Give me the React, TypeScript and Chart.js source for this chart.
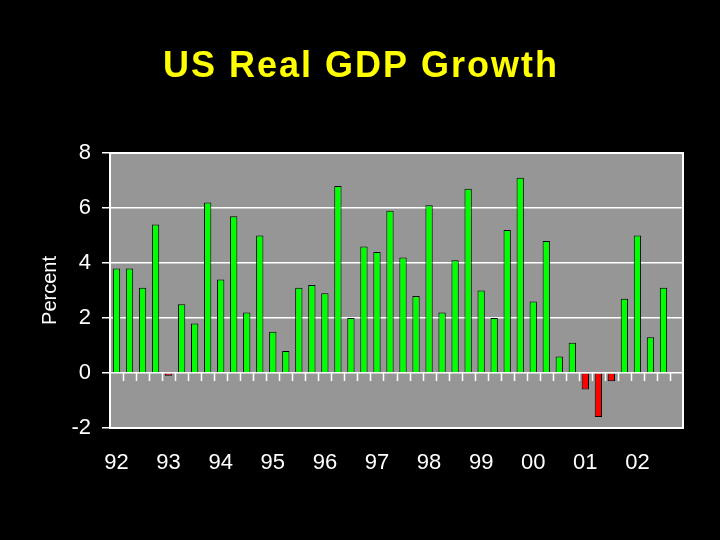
import React, { useEffect, useRef } from "react";
import { Chart, registerables } from "chart.js";

Chart.register(...registerables);

const titleText = "US Real GDP Growth";
const years = ["92", "93", "94", "95", "96", "97", "98", "99", "00", "01", "02"];
const quarters = ["Q1", "Q2", "Q3", "Q4"];
const categories: string[] = years.flatMap((y) => quarters.map((q) => `${y} ${q}`));

// Real GDP growth, percent, 1992 Q1 .. 2002 Q3 (2002 Q4 not yet reported)
const growth: (number | null)[] = [
  3.8, 3.8, 3.1, 5.4,
  -0.1, 2.5, 1.8, 6.2,
  3.4, 5.7, 2.2, 5.0,
  1.5, 0.8, 3.1, 3.2,
  2.9, 6.8, 2.0, 4.6,
  4.4, 5.9, 4.2, 2.8,
  6.1, 2.2, 4.1, 6.7,
  3.0, 2.0, 5.2, 7.1,
  2.6, 4.8, 0.6, 1.1,
  -0.6, -1.6, -0.3, 2.7,
  5.0, 1.3, 3.1, null,
];

const yTicks = [-2, 0, 2, 4, 6, 8];

const FONT = "'Liberation Sans', Arial, Helvetica, sans-serif";

export default function App() {
  const ref = useRef<HTMLCanvasElement | null>(null);

  useEffect(() => {
    document.body.style.margin = "0";
    document.body.style.background = "#000";
    const canvas = ref.current;
    if (!canvas) return;

    const framePlugin = {
      id: "frame",
      beforeDraw(chart: any) {
        const { ctx, chartArea: a } = chart;
        ctx.save();
        ctx.fillStyle = "#000";
        ctx.fillRect(0, 0, chart.width, chart.height);
        ctx.fillStyle = "#969696";
        ctx.fillRect(a.left, a.top, a.right - a.left, a.bottom - a.top);
        ctx.restore();
      },
      afterDatasetsDraw(chart: any) {
        const { ctx, chartArea: a, scales } = chart;
        const xs = scales.x;
        const ys = scales.y;
        const y0 = ys.getPixelForValue(0);
        const slot = xs.getPixelForTick(1) - xs.getPixelForTick(0);
        ctx.save();
        ctx.strokeStyle = "#ffffff";
        ctx.lineWidth = 1.5;
        ctx.beginPath();
        for (let i = 1; i < categories.length; i++) {
          const x = Math.round(xs.getPixelForTick(i) - slot / 2) + 0.5;
          ctx.moveTo(x, y0);
          ctx.lineTo(x, y0 + 8);
        }
        ctx.stroke();
        ctx.lineWidth = 2;
        ctx.strokeRect(a.left, a.top, a.right - a.left, a.bottom - a.top);
        ctx.restore();
      },
      afterDraw(chart: any) {
        const { ctx } = chart;
        ctx.save();
        ctx.font = `bold 36px ${FONT}`;
        try {
          (ctx as any).letterSpacing = "2px";
        } catch (e) {}
        ctx.fillStyle = "#ffff00";
        ctx.textAlign = "center";
        ctx.textBaseline = "middle";
        ctx.fillText(titleText, chart.width / 2 + 1, 67);
        ctx.restore();
      },
    };

    const chart = new Chart(canvas, {
      type: "bar",
      data: {
        labels: categories,
        datasets: [
          {
            label: "Real GDP growth",
            data: growth,
            backgroundColor: growth.map((v) => (v !== null && v < 0 ? "#ff0000" : "#00ff00")),
            borderColor: "#000000",
            borderWidth: 1,
            barPercentage: 0.56,
            categoryPercentage: 1,
          },
        ],
      },
      options: {
        responsive: false,
        animation: false,
        devicePixelRatio: 1,
        layout: { padding: { top: 153, left: 0, right: 37, bottom: 0 } },
        plugins: {
          legend: { display: false },
          tooltip: { enabled: false },
          title: { display: false },
        },
        scales: {
          x: {
            type: "category",
            grid: { display: false, drawTicks: false },
            border: { display: false },
            ticks: {
              autoSkip: false,
              maxRotation: 0,
              minRotation: 0,
              color: "#ffffff",
              padding: 22,
              font: { family: FONT, size: 22 },
              callback: (_v: any, i: number) => (i % 4 === 0 ? years[i / 4] : ""),
            },
            afterFit: (s: any) => {
              s.height = 112;
            },
          },
          y: {
            min: -2,
            max: 8,
            afterBuildTicks: (s: any) => {
              s.ticks = yTicks.map((v) => ({ value: v }));
            },
            grid: {
              color: "#ffffff",
              lineWidth: 1.5,
              tickLength: 8,
              drawTicks: true,
            },
            border: { display: true, color: "#ffffff", width: 2 },
            ticks: {
              color: "#ffffff",
              padding: 11,
              font: { family: FONT, size: 22 },
            },
            title: {
              display: true,
              text: "Percent",
              color: "#ffffff",
              font: { family: FONT, size: 20 },
              padding: { top: 38, bottom: 0 },
            },
            afterFit: (s: any) => {
              s.width = 110;
            },
          },
        },
      },
      plugins: [framePlugin],
    });

    return () => chart.destroy();
  }, []);

  return (
    <div style={{ position: "fixed", left: 0, top: 0, width: 720, height: 540, background: "#000" }}>
      <canvas ref={ref} width={720} height={540} style={{ display: "block", width: 720, height: 540 }} />
    </div>
  );
}
